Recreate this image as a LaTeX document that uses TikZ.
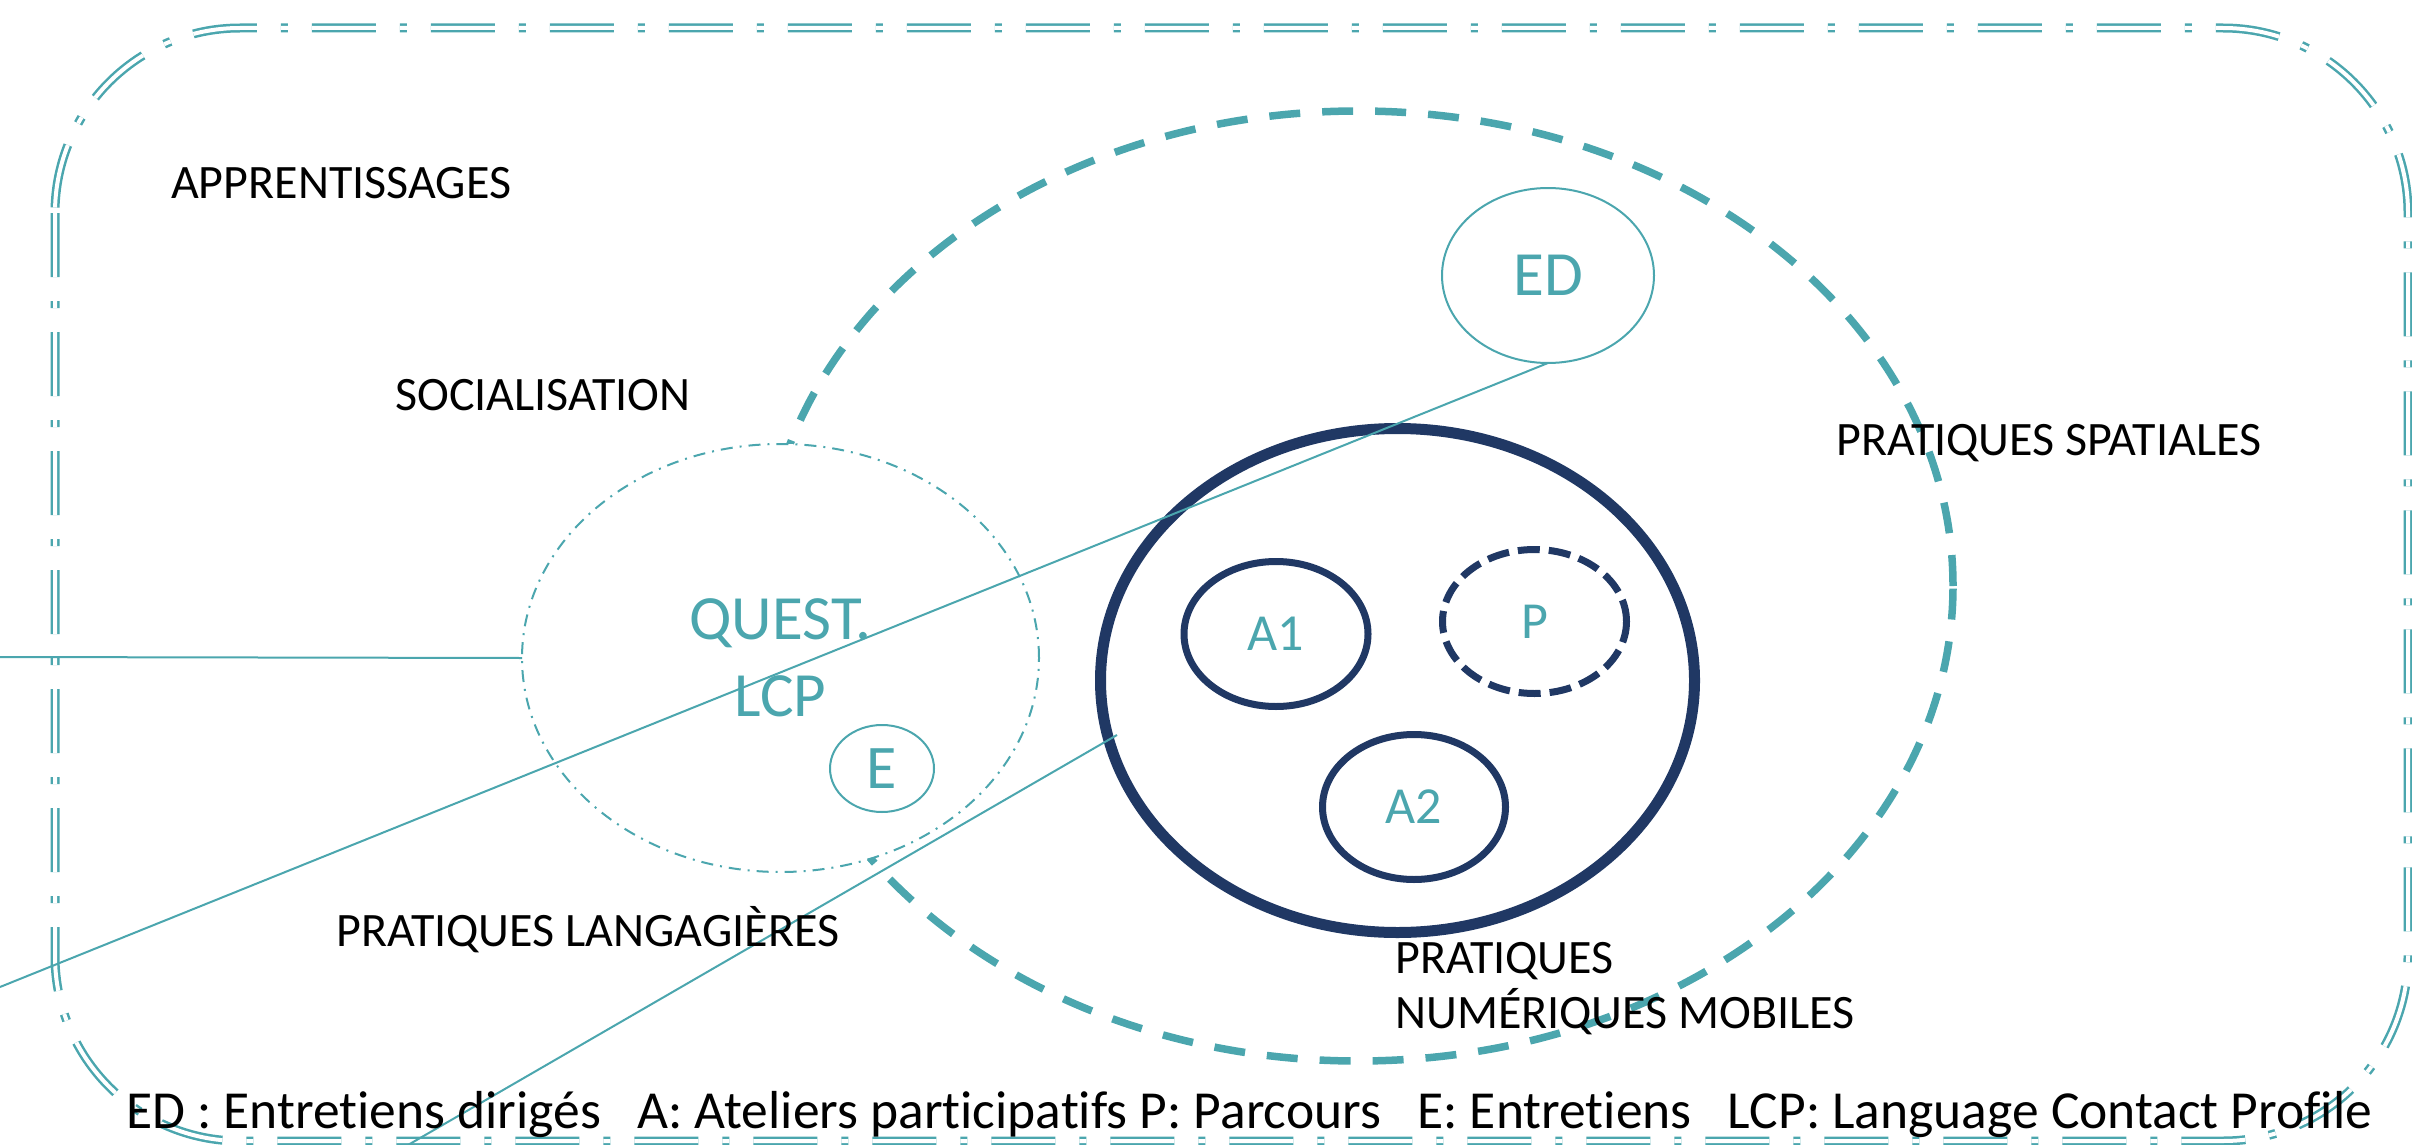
\documentclass[tikz,border=0pt]{standalone}
\usepackage{fontspec}
\setmainfont{Carlito}[Ligatures=NoCommon]
\usetikzlibrary{shapes.geometric}
\definecolor{tealc}{RGB}{75,166,174}
\definecolor{navyc}{RGB}{32,56,100}
\begin{document}
\begin{tikzpicture}[x=1pt,y=-1pt,
  lab/.style={anchor=base west, inner sep=0pt, font=\fontsize{48}{58}\selectfont, text=black},
  ell/.style={ellipse, inner sep=0pt, outer sep=0pt},
  navyring/.style={ell, draw=navyc, line width=7pt, text=tealc, font=\fontsize{52}{60}\selectfont},
  conn/.style={draw=tealc, line width=2pt}
]
\useasboundingbox (0,0) rectangle (2412,1145);
% outer rounded frame
\draw[draw=tealc, double=white, line width=2.5pt, double distance=4pt,
      dash pattern=on 64pt off 24pt on 7pt off 24pt, rounded corners=185pt]
  (55,28) rectangle (2408,1141);
% big dashed ellipse (pratiques spatiales)
\node[ell, draw=tealc, line width=7.5pt, dash pattern=on 31pt off 22pt,
      minimum width=1190pt, minimum height=950pt] (spat) at (1358,586) {};
% questionnaire ellipse
\node[ell, draw=tealc, fill=white, line width=2pt,
      dash pattern=on 12pt off 7pt on 2pt off 7pt,
      minimum width=517pt, minimum height=428pt,
      text=tealc, align=center, font=\fontsize{63}{77}\selectfont] (quest) at (780.5,658) {QUEST.\\LCP};
% E ellipse
\node[ell, draw=tealc, line width=2pt, minimum width=104pt, minimum height=87pt,
      text=tealc, font=\fontsize{62}{70}\selectfont] (e) at (882,768.5) {E};
% big navy ring
\node[ell, draw=navyc, fill=white, line width=11pt, minimum width=594pt, minimum height=504pt] (num) at (1397.5,680.5) {};
% A1, P, A2
\node[navyring, minimum width=184pt, minimum height=145pt] (a1) at (1276,634) {A1};
\node[navyring, dash pattern=on 22pt off 9pt, minimum width=184pt, minimum height=144pt] (p) at (1534.5,621.5) {P};
\node[navyring, minimum width=183pt, minimum height=145pt] (a2) at (1414,807) {A2};
% ED ellipse
\node[ell, draw=tealc, line width=2pt, minimum width=212pt, minimum height=175pt,
      text=tealc, font=\fontsize{63}{70}\selectfont] (ed) at (1548,275.5) {ED};
% connectors
\coordinate (qleft) at (0,657);
\coordinate (edend) at (0,987);
\coordinate (numin) at (1117,735);
\coordinate (numend) at (408,1145);
\draw[conn] (qleft) -- (quest.west);
\draw[conn] (ed.south) -- (edend);
\draw[conn] (numin) -- (numend);
% labels
\node[lab] (appr) at (171,198) {APPRENTISSAGES};
\node[lab] (soc) at (395,410) {SOCIALISATION};
\node[lab] (pspat) at (1836,455) {PRATIQUES SPATIALES};
\node[lab] (plang) at (336,946) {PRATIQUES LANGAGIÈRES};
\node[lab] (pnum1) at (1395,973) {PRATIQUES};
\node[lab] (pnum2) at (1395,1028) {NUMÉRIQUES MOBILES};
% legend
\node[anchor=base west, inner sep=0pt, font=\fontsize{53.5}{60}\selectfont] (legend) at (126,1128)
  {ED : Entretiens dirigés~~~A: Ateliers participatifs P: Parcours~~~E: Entretiens~~~LCP: Language Contact Profile};
\end{tikzpicture}
\end{document}
